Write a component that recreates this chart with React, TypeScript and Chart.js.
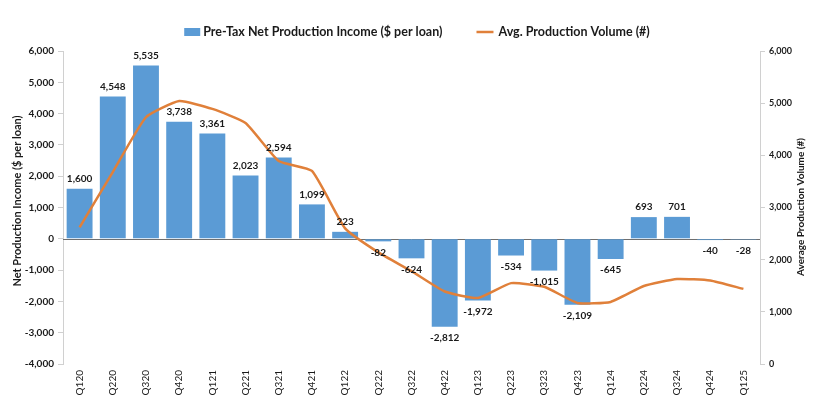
import React, { useEffect, useRef } from "react";
import { Chart, registerables } from "chart.js";

Chart.register(...registerables);

const categories = ["Q120","Q220","Q320","Q420","Q121","Q221","Q321","Q421","Q122","Q222","Q322","Q422","Q123","Q223","Q323","Q423","Q124","Q224","Q324","Q424","Q125"];
const incomeValues = [1600,4548,5535,3738,3361,2023,2594,1099,223,-82,-624,-2812,-1972,-534,-1015,-2109,-645,693,701,-40,-28];
const volumeValues = [2620,3680,4730,5040,4890,4620,3890,3700,2600,2140,1780,1390,1265,1550,1480,1170,1190,1495,1630,1600,1440];
const leftTicks = [-4000,-3000,-2000,-1000,0,1000,2000,3000,4000,5000,6000];
const rightTicks = [0,1000,2000,3000,4000,5000,6000];

const incomeLabel = "Pre-Tax Net Production Income ($ per loan)";
const volumeLabel = "Avg. Production Volume (#)";
const leftTitle = "Net Production Income ($ per loan)";
const rightTitle = "Average Production Volume (#)";

const BAR = "#5B9BD5";
const LINE = "#E0803A";
const FONT = "Lato, 'Open Sans', sans-serif";
const TEXT = "#1a1a1a";

const fmt = (v: number) => v.toLocaleString("en-US");

const overlayPlugin = {
  id: "overlay",
  beforeDatasetsDraw(chart: any) {
    const { ctx, chartArea } = chart;
    const y = chart.scales.y.getPixelForValue(0);
    ctx.save();
    ctx.strokeStyle = "#6f6f6f";
    ctx.lineWidth = 1;
    ctx.beginPath();
    ctx.moveTo(chartArea.left, Math.round(y) + 0.5);
    ctx.lineTo(chartArea.right, Math.round(y) + 0.5);
    ctx.stroke();
    ctx.restore();
  },
  afterDatasetsDraw(chart: any) {
    const { ctx } = chart;
    const meta = chart.getDatasetMeta(0);
    ctx.save();
    ctx.font = `bold 10px ${FONT}`;
    ctx.fillStyle = TEXT;
    ctx.textAlign = "center";
    ctx.textBaseline = "middle";
    meta.data.forEach((el: any, i: number) => {
      const v = incomeValues[i];
      const yy = v >= 0 ? el.y - 10 : el.y + 11;
      ctx.fillText(fmt(v), el.x, yy);
    });
    ctx.restore();
  },
  afterDraw(chart: any) {
    const { ctx } = chart;
    ctx.save();
    // legend
    ctx.font = `bold 12.5px ${FONT}`;
    ctx.fillStyle = TEXT;
    ctx.textBaseline = "middle";
    const cy = 32;
    const w1 = ctx.measureText(incomeLabel).width;
    const w2 = ctx.measureText(volumeLabel).width;
    const total = 16 + 3 + w1 + 34 + 17 + 5 + w2;
    let x = 417 - total / 2;
    ctx.fillStyle = BAR;
    ctx.fillRect(x, cy - 4, 16, 8);
    x += 19;
    ctx.fillStyle = TEXT;
    ctx.fillText(incomeLabel, x, cy);
    x += w1 + 34;
    ctx.strokeStyle = LINE;
    ctx.lineWidth = 2.5;
    ctx.beginPath();
    ctx.moveTo(x, cy);
    ctx.lineTo(x + 17, cy);
    ctx.stroke();
    x += 22;
    ctx.fillText(volumeLabel, x, cy);

    // axis titles (both read bottom to top)
    ctx.textAlign = "center";
    ctx.textBaseline = "middle";
    ctx.fillStyle = TEXT;
    ctx.save();
    ctx.translate(17, 201);
    ctx.rotate(-Math.PI / 2);
    ctx.font = `bold 11px ${FONT}`;
    ctx.fillText(leftTitle, 0, 0);
    ctx.restore();
    ctx.save();
    ctx.translate(801, 207);
    ctx.rotate(-Math.PI / 2);
    ctx.font = `bold 10px ${FONT}`;
    ctx.fillText(rightTitle, 0, 0);
    ctx.restore();
    ctx.restore();
  },
};

export default function App() {
  const ref = useRef<HTMLCanvasElement>(null);
  useEffect(() => {
    if (!ref.current) return;
    const chart = new Chart(ref.current, {
      data: {
        labels: categories,
        datasets: [
          {
            type: "bar",
            label: incomeLabel,
            data: incomeValues,
            backgroundColor: BAR,
            yAxisID: "y",
            barPercentage: 0.78,
            categoryPercentage: 1,
            order: 2,
          },
          {
            type: "line",
            label: volumeLabel,
            data: volumeValues,
            borderColor: LINE,
            borderWidth: 2.5,
            pointRadius: 0,
            tension: 0.15,
            yAxisID: "y1",
            order: 1,
          },
        ],
      } as any,
      options: {
        responsive: false,
        animation: false,
        layout: { padding: { top: 51, left: 0, right: 0, bottom: 0 } },
        plugins: { legend: { display: false }, tooltip: { enabled: false } },
        scales: {
          x: {
            grid: { display: false, drawTicks: false, tickLength: 0 },
            border: { display: false },
            ticks: {
              minRotation: 90,
              maxRotation: 90,
              autoSkip: false,
              color: TEXT,
              font: { family: FONT, size: 10 },
              padding: 6,
            },
            afterFit: (s: any) => { s.height = 34; },
          },
          y: {
            position: "left",
            min: -4000,
            max: 6000,
            afterBuildTicks: (s: any) => { s.ticks = leftTicks.map((v) => ({ value: v })); },
            grid: { drawOnChartArea: false, color: "#d0d0d0", tickLength: 5 },
            border: { display: true, color: "#d0d0d0" },
            ticks: {
              color: TEXT,
              font: { family: FONT, size: 10, weight: "bold" },
              padding: 4,
              callback: (v: any) => fmt(Number(v)),
            },
            afterFit: (s: any) => { s.width = 63; },
          },
          y1: {
            position: "right",
            min: 0,
            max: 6000,
            afterBuildTicks: (s: any) => { s.ticks = rightTicks.map((v) => ({ value: v })); },
            grid: { drawOnChartArea: false, color: "#d0d0d0", tickLength: 5 },
            border: { display: true, color: "#d0d0d0" },
            ticks: {
              color: TEXT,
              font: { family: FONT, size: 9, weight: "bold" },
              padding: 4,
              callback: (v: any) => fmt(Number(v)),
            },
            afterFit: (s: any) => { s.width = 63; },
          },
        },
      } as any,
      plugins: [overlayPlugin],
    });
    return () => chart.destroy();
  }, []);
  return (
    <div style={{ position: "absolute", left: 0, top: 0, width: 823, height: 398, background: "#fff" }}>
      <canvas ref={ref} width={823} height={398} style={{ width: 823, height: 398 }} />
    </div>
  );
}
